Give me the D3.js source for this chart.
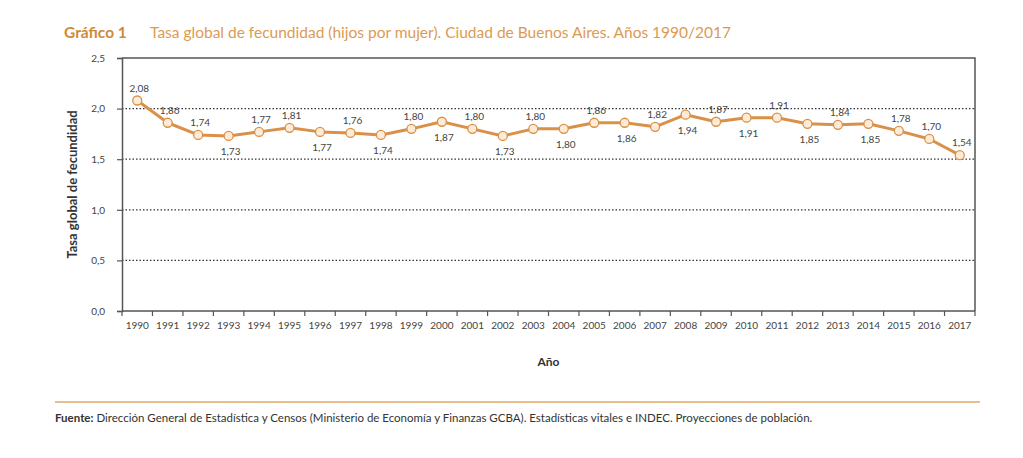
<!DOCTYPE html>
<html><head><meta charset="utf-8">
<script src="https://cdn.jsdelivr.net/npm/d3@7"></script>
<style>
body{margin:0;background:#fff;}
svg{display:block;font-family:Lato,"Open Sans",sans-serif;}
</style></head><body>
<svg id="chart" width="1023" height="458"></svg>
<script>
const years = [1990,1991,1992,1993,1994,1995,1996,1997,1998,1999,2000,2001,2002,2003,2004,2005,2006,2007,2008,2009,2010,2011,2012,2013,2014,2015,2016,2017];
const tgf = [2.08,1.86,1.74,1.73,1.77,1.81,1.77,1.76,1.74,1.80,1.87,1.80,1.73,1.80,1.80,1.86,1.86,1.82,1.94,1.87,1.91,1.91,1.85,1.84,1.85,1.78,1.70,1.54];
const labelSide = ["a","a","a","b","a","a","b","a","b","a","b","a","b","a","b","a","b","a","b","a","b","a","b","a","b","a","a","a"];
const yTicks = [0,0.5,1.0,1.5,2.0,2.5];

(function(){
const svg = d3.select("#chart");
const orange = "#d9914a";
const mL = 122, mR = 975, mT = 58, mB = 311;

const x = d3.scaleBand().domain(years).range([mL, mR]);
const y = d3.scaleLinear().domain([0, 2.5]).range([mB, mT]);
const fmt = v => d3.format(".2f")(v).replace(".", ",");
const fmt1 = v => d3.format(".1f")(v).replace(".", ",");

// Title
const t = svg.append("text").attr("x", 64).attr("y", 38).attr("font-size", 15.5);
t.append("tspan").attr("fill", "#d08a35").attr("font-weight", "bold").text("Gráfico 1");
t.append("tspan").attr("x", 150).attr("fill", "#dc9a52").text("Tasa global de fecundidad (hijos por mujer). Ciudad de Buenos Aires. Años 1990/2017");

// gridlines
svg.append("g").selectAll("line").data(yTicks.filter(d => d > 0 && d < 2.5)).join("line")
  .attr("x1", mL).attr("x2", mR).attr("y1", d => y(d)).attr("y2", d => y(d))
  .attr("stroke", "#333").attr("stroke-width", 1.2).attr("stroke-dasharray", "1.5,2");

// frame top/right
svg.append("path").attr("d", `M${mL},${mT}H${mR}V${mB}`).attr("fill","none").attr("stroke","#555").attr("stroke-width",1.5);

// y axis
const ya = svg.append("g").attr("transform", `translate(${mL},0)`)
  .call(d3.axisLeft(y).tickValues(yTicks).tickFormat(fmt1).tickSize(5).tickPadding(12));
ya.select(".domain").attr("stroke", "#555").attr("stroke-width", 1.5);
ya.selectAll(".tick line").attr("stroke", "#555").attr("stroke-width", 1.2);
ya.selectAll("text").attr("font-size", 10).attr("fill", "#444").attr("font-family", "Lato,sans-serif");

// x axis: ticks at band boundaries
const xa = svg.append("g").attr("transform", `translate(0,${mB})`)
  .call(d3.axisBottom(x).tickSize(0).tickPadding(11).tickFormat(d3.format("d")));
xa.select(".domain").attr("d", `M${mL},0H${mR}`).attr("stroke", "#555").attr("stroke-width", 1.5);
xa.selectAll("text").attr("font-size", 10).attr("fill", "#444").attr("font-family", "Lato,sans-serif");
xa.append("g").selectAll("line").data(years.concat([null])).join("line")
  .attr("x1", (d, i) => mL + i * x.step()).attr("x2", (d, i) => mL + i * x.step())
  .attr("y1", 0).attr("y2", 5).attr("stroke", "#555").attr("stroke-width", 1.2);

// axis titles
svg.append("text").attr("transform", `translate(77,${(mT+mB)/2}) rotate(-90)`)
  .attr("text-anchor", "middle").attr("font-size", 13).attr("font-weight", "bold").attr("fill", "#333")
  .text("Tasa global de fecundidad");
svg.append("text").attr("x", (mL+mR)/2).attr("y", 366).attr("text-anchor", "middle")
  .attr("font-size", 12).attr("font-weight", "bold").attr("fill", "#333").text("Año");

// line
const cx = d => x(d) + x.bandwidth()/2;
svg.append("path").datum(tgf)
  .attr("d", d3.line().x((d, i) => cx(years[i])).y(d => y(d)))
  .attr("fill", "none").attr("stroke", orange).attr("stroke-width", 3).attr("stroke-linejoin", "round");

svg.append("g").selectAll("circle").data(tgf).join("circle")
  .attr("cx", (d, i) => cx(years[i])).attr("cy", d => y(d)).attr("r", 4.5)
  .attr("fill", "#fcebd6").attr("stroke", orange).attr("stroke-width", 1.3);

// data labels
svg.append("g").selectAll("text").data(tgf).join("text")
  .attr("x", (d, i) => cx(years[i]) + 2)
  .attr("y", (d, i) => labelSide[i] === "a" ? y(d) - 9 : y(d) + 19)
  .attr("text-anchor", "middle").attr("font-size", 10).attr("fill", "#444")
  .text(d => fmt(d));

// footer
svg.append("line").attr("x1", 55).attr("x2", 980).attr("y1", 402).attr("y2", 402)
  .attr("stroke", "#e0a867").attr("stroke-width", 1.5);
const f = svg.append("text").attr("x", 55).attr("y", 422).attr("font-size", 11.5).attr("fill", "#333");
f.append("tspan").attr("font-weight", "bold").text("Fuente:");
f.append("tspan").text(" Dirección General de Estadística y Censos (Ministerio de Economía y Finanzas GCBA). Estadísticas vitales e INDEC. Proyecciones de población.");
})();
</script>
</body></html>
